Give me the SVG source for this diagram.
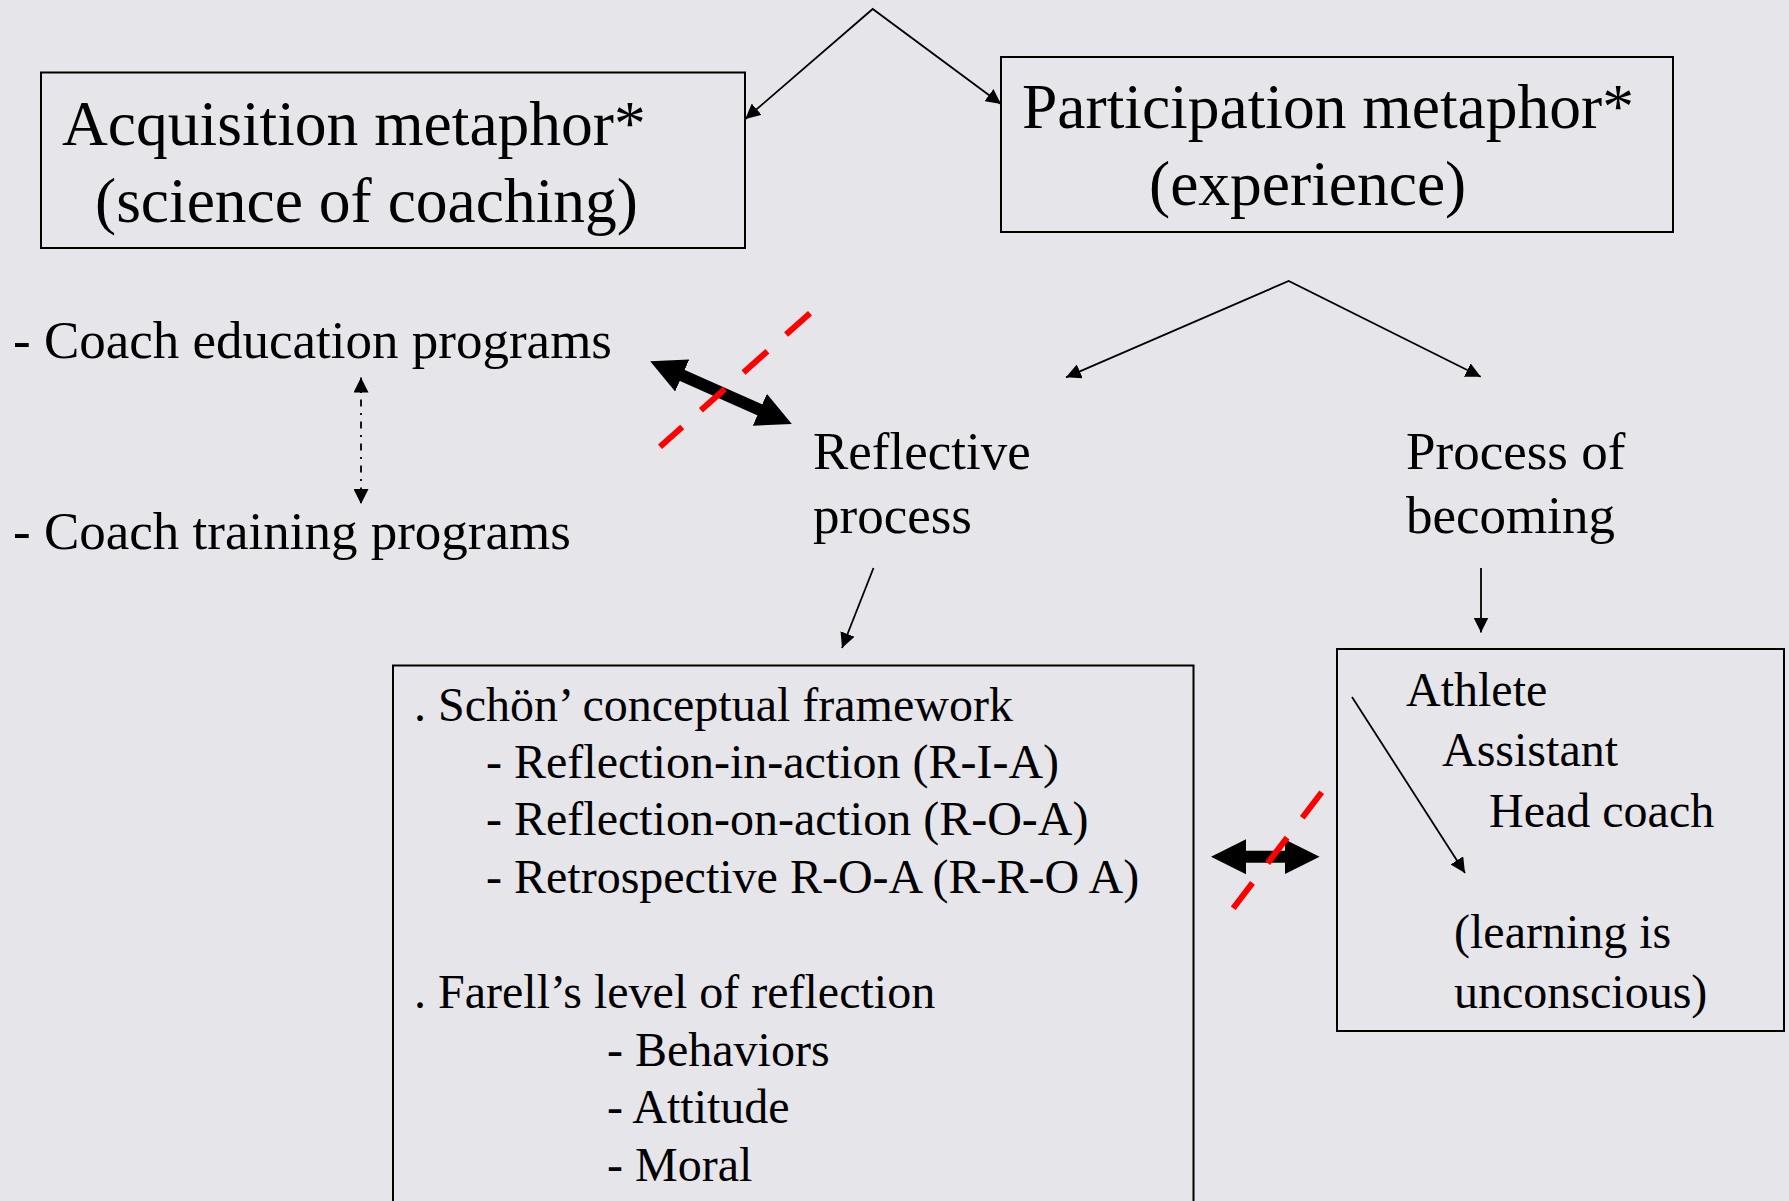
<svg xmlns="http://www.w3.org/2000/svg" width="1789" height="1201" viewBox="0 0 1789 1201">
<style>
text{font-family:"Liberation Serif","Times New Roman",serif;fill:#000}
.h{font-size:63.5px}
.b{font-size:53px}
.s{font-size:48px}
.box{fill:none;stroke:#000;stroke-width:2}
.ln{fill:none;stroke:#000;stroke-width:1.8}
.dd{fill:none;stroke:#000;stroke-width:1.8;stroke-dasharray:7 6.5 2 6.5}
.thick{fill:none;stroke:#000;stroke-width:12}
.red{fill:none;stroke:#ff0000;stroke-width:6;stroke-dasharray:32 25}
</style>
<defs>
<marker id="ah" markerUnits="userSpaceOnUse" viewBox="0 0 15 15" refX="15" refY="7.5" markerWidth="15" markerHeight="15" orient="auto-start-reverse">
<path d="M0,0 L15,7.5 L0,15 z" fill="#000"/>
</marker>
<marker id="big" markerUnits="userSpaceOnUse" viewBox="0 0 36 36" refX="1" refY="18" markerWidth="36" markerHeight="36" orient="auto-start-reverse">
<path d="M0,0.5 L35,18 L0,35.5 z" fill="#000"/>
</marker>
</defs>
<rect width="1789" height="1201" fill="#E6E5EA"/>

<g id="connectors">
<polyline class="ln" points="745.3,119 872.7,9 1001,104" marker-start="url(#ah)" marker-end="url(#ah)"/>
<polyline class="ln" points="1066,377.3 1288.7,281 1480.7,376.7" marker-start="url(#ah)" marker-end="url(#ah)"/>
<line class="dd" x1="361" y1="377.5" x2="361" y2="504" marker-start="url(#ah)" marker-end="url(#ah)"/>
<line class="ln" x1="873.5" y1="568" x2="842" y2="648" marker-end="url(#ah)"/>
<line class="ln" x1="1481" y1="568" x2="1481" y2="632.5" marker-end="url(#ah)"/>
<line class="ln" x1="1352" y1="697" x2="1465" y2="873" marker-end="url(#ah)"/>
<line class="thick" x1="681.3" y1="375.1" x2="760.7" y2="410.2" marker-start="url(#big)" marker-end="url(#big)"/>
<line class="thick" x1="1245" y1="856.7" x2="1285.6" y2="856.7" marker-start="url(#big)" marker-end="url(#big)"/>
<line class="red" x1="810" y1="313.3" x2="660" y2="446.7"/>
<line class="red" x1="1321.7" y1="792.3" x2="1233.2" y2="908.3"/>
</g>

<g id="acquisition">
<rect class="box" x="41" y="72.5" width="704" height="175.5"/>
<text class="h" x="62" y="145">Acquisition metaphor*</text>
<text class="h" x="95" y="222">(science of coaching)</text>
</g>

<g id="participation">
<rect class="box" x="1001" y="57" width="672" height="175"/>
<text class="h" x="1022" y="128">Participation metaphor*</text>
<text class="h" x="1149" y="205">(experience)</text>
</g>

<g id="coach-education">
<text class="b" x="13" y="358">- Coach education programs</text>
</g>

<g id="coach-training">
<text class="b" x="13" y="549">- Coach training programs</text>
</g>

<g id="reflective">
<text class="b" x="813" y="469">Reflective</text>
<text class="b" x="813" y="533">process</text>
</g>

<g id="becoming">
<text class="b" x="1406" y="469">Process of</text>
<text class="b" x="1406" y="533">becoming</text>
</g>

<g id="reflection-box">
<rect class="box" x="393" y="665.5" width="800.5" height="560"/>
<text class="s" x="414" y="721">. Schön’ conceptual framework</text>
<text class="s" x="486" y="778">- Reflection-in-action (R-I-A)</text>
<text class="s" x="486" y="835">- Reflection-on-action (R-O-A)</text>
<text class="s" x="486" y="893">- Retrospective R-O-A (R-R-O A)</text>
<text class="s" x="414" y="1008">. Farell’s level of reflection</text>
<text class="s" x="607" y="1066">- Behaviors</text>
<text class="s" x="607" y="1123">- Attitude</text>
<text class="s" x="607" y="1181">- Moral</text>
</g>

<g id="athlete-box">
<rect class="box" x="1337" y="649" width="447" height="382"/>
<text class="s" x="1406" y="706">Athlete</text>
<text class="s" x="1442" y="766">Assistant</text>
<text class="s" x="1489" y="827">Head coach</text>
<text class="s" x="1454" y="948">(learning is</text>
<text class="s" x="1454" y="1008">unconscious)</text>
</g>
</svg>
